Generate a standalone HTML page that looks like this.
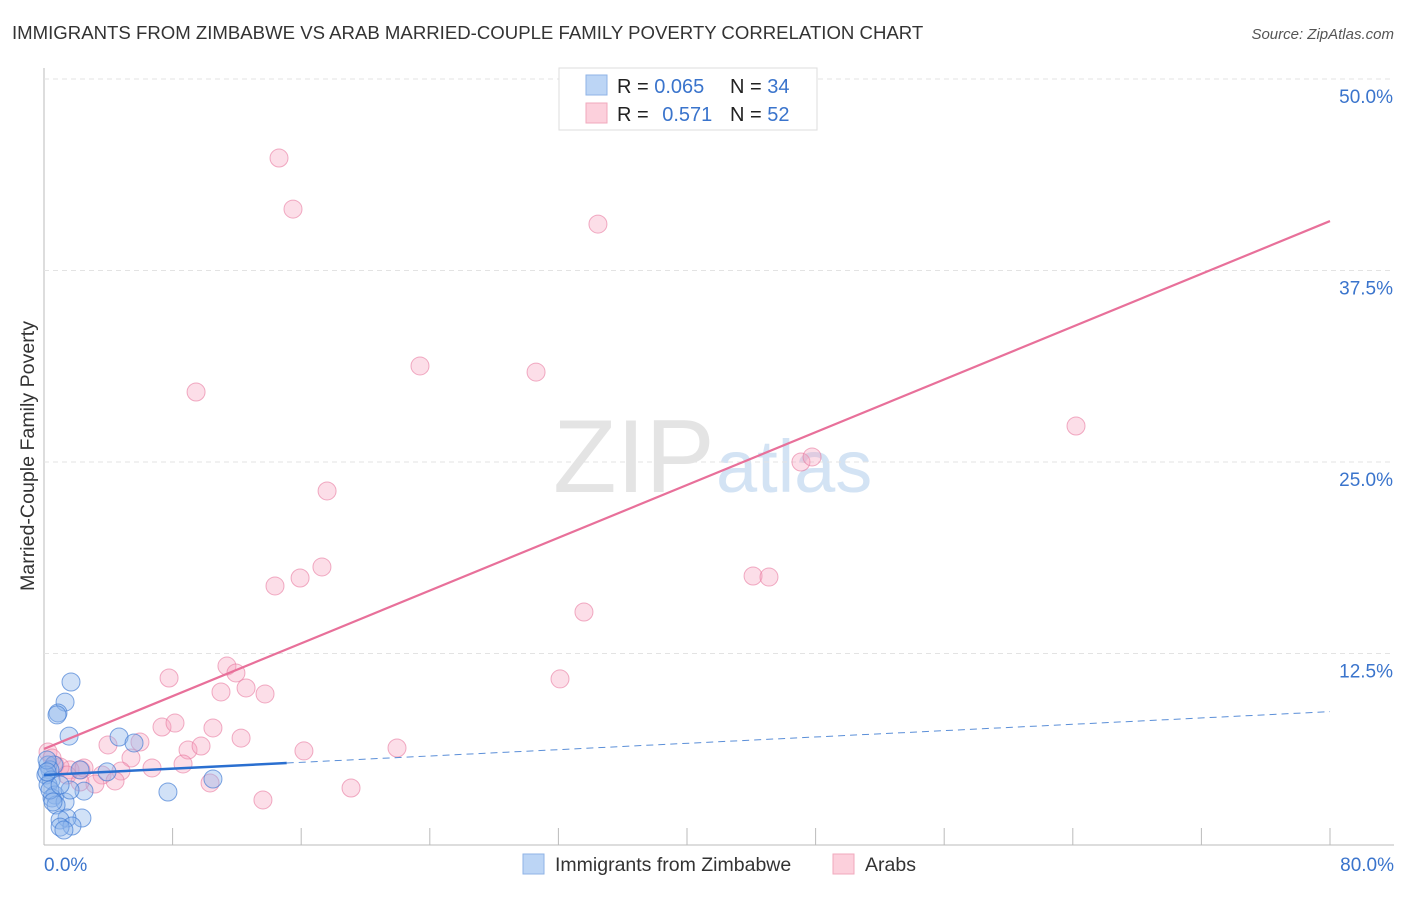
<!DOCTYPE html>
<html><head><meta charset="utf-8"><style>
body{margin:0;background:#fff;font-family:"Liberation Sans",sans-serif;}
svg text{font-family:"Liberation Sans",sans-serif;}
</style></head><body>
<svg id="chart" width="1406" height="892" xmlns="http://www.w3.org/2000/svg">
<text x="12" y="39" font-size="18.6" fill="#333">IMMIGRANTS FROM ZIMBABWE VS ARAB MARRIED-COUPLE FAMILY POVERTY CORRELATION CHART</text>
<text x="1394" y="39" font-size="15" fill="#555" font-style="italic" text-anchor="end">Source: ZipAtlas.com</text>
<text x="34" y="456" font-size="19.6" fill="#333" text-anchor="middle" transform="rotate(-90 34 456)">Married-Couple Family Poverty</text>
<g>
<text x="553" y="492" font-size="104" fill="#e4e4e4" font-family="Liberation Serif,serif">ZIP</text>
<text x="716" y="492" font-size="74" fill="#d3e3f4">atlas</text>
</g>
<g id="grid"></g><g id="pts"></g><g id="lines"></g>
<g>
<rect x="559" y="68" width="258" height="62" fill="#fff" stroke="#ddd"/>
<rect x="586" y="75" width="21" height="20" fill="#bcd5f5" stroke="#8fb3e6"/>
<rect x="586" y="103" width="21" height="20" fill="#fcd0dc" stroke="#f0a9bd"/>
<text x="617" y="93" font-size="20" fill="#222">R = <tspan fill="#3a74cc">0.065</tspan></text>
<text x="730" y="93" font-size="20" fill="#222">N = <tspan fill="#3a74cc">34</tspan></text>
<text x="617" y="121" font-size="20" fill="#222">R = <tspan fill="#3a74cc" dx="8">0.571</tspan></text>
<text x="730" y="121" font-size="20" fill="#222">N = <tspan fill="#3a74cc">52</tspan></text>
</g>
<g>
<rect x="523" y="854" width="21" height="20" fill="#bcd5f5" stroke="#8fb3e6"/>
<text x="555" y="871" font-size="19.5" fill="#333">Immigrants from Zimbabwe</text>
<rect x="833" y="854" width="21" height="20" fill="#fcd0dc" stroke="#f0a9bd"/>
<text x="865" y="871" font-size="19.5" fill="#333">Arabs</text>
</g>
</svg>
<script>
const xTicks=[0,10,20,30,40,50,60,70,80];
const yTicks=[12.5,25,37.5,50];
const blueX=[1.68,1.31,0.87,0.81,1.56,4.67,5.6,0.25,0.62,0.37,0.12,0.44,0.25,2.24,0.68,0.5,1.31,0.75,2.36,1.43,1.0,1.74,1.0,1.24,7.71,10.51,2.49,0.19,0.37,0.56,1.62,0.19,1.0,3.92];
const blueY=[10.64,9.33,8.62,8.49,7.11,7.05,6.66,5.22,5.22,4.9,4.57,4.24,3.92,4.9,3.26,3.07,2.81,2.61,1.76,1.76,1.63,1.24,1.17,0.98,3.46,4.31,3.52,5.55,3.59,2.81,3.59,4.77,3.92,4.77];
const pinkX=[14.62,15.49,34.46,9.46,23.39,30.61,17.61,64.2,47.09,47.78,17.29,15.93,14.37,44.11,45.1,33.59,7.78,11.38,11.94,11.01,12.57,13.75,32.1,7.34,8.15,10.51,12.26,8.96,9.77,16.17,21.96,8.65,5.97,3.98,5.41,6.72,4.79,3.61,4.42,3.17,2.3,1.62,0.25,0.68,1.0,1.43,2.24,10.33,13.62,19.1,2.49,0.5];
const pinkY=[44.84,41.51,40.53,29.57,31.27,30.87,23.11,27.35,25.0,25.33,18.15,17.43,16.91,17.56,17.49,15.21,10.9,11.68,11.23,9.99,10.25,9.86,10.84,7.7,7.96,7.64,6.98,6.2,6.46,6.14,6.33,5.29,6.72,6.53,5.68,5.03,4.83,4.57,4.18,3.98,4.9,4.9,6.07,5.22,5.09,4.57,4.11,4.05,2.94,3.72,5.03,5.68];
const blueTrend=[4.57,0.0517,15.1];
const pinkTrend=[6.27,0.4307];
const X=v=>44+v*16.075, Y=v=>845-v*15.32;
const NS='http://www.w3.org/2000/svg';
function mk(tag,attrs,parent){const e=document.createElementNS(NS,tag);for(const k in attrs)e.setAttribute(k,attrs[k]);document.getElementById(parent).appendChild(e);return e;}
let e;
e=mk('line',{x1:44,y1:68,x2:44,y2:845,stroke:'#bbb'},'grid');


e=mk('line',{x1:44,y1:845,x2:1394,y2:845,stroke:'#bbb'},'grid');


yTicks.forEach(t=>{
 e=mk('line',{x1:44,y1:Y(t),x2:1394,y2:Y(t),stroke:'#e3e3e3','stroke-dasharray':'5,4'},'grid');
 
 
 e=mk('text',{x:1393,y:Y(t)+24,'font-size':19,fill:'#3a74cc','text-anchor':'end'},'grid');e.textContent=t.toFixed(1)+'%';
 
 
});
for(let i=1;i<=10;i++){const v=i*8;
 e=mk('line',{x1:X(v),y1:828,x2:X(v),y2:845,stroke:'#bbb'},'grid');
 
 
}
[[0,'0.0%','start',44],[80,'80.0%','end',1394]].forEach(a=>{
 e=mk('text',{x:a[3],y:871,'font-size':19,fill:'#3a74cc','text-anchor':a[2]},'grid');e.textContent=a[1];
 
 
});
pinkX.forEach((x,i)=>{
 e=mk('circle',{cx:X(x),cy:Y(pinkY[i]),r:9,fill:'rgba(246,160,188,0.35)',stroke:'rgba(232,120,158,0.6)','stroke-width':1},'pts');
 
 
});
blueX.forEach((x,i)=>{
 e=mk('circle',{cx:X(x),cy:Y(blueY[i]),r:9,fill:'rgba(140,180,235,0.4)',stroke:'rgba(60,120,210,0.65)','stroke-width':1},'pts');
 
 
});
e=mk('line',{x1:X(0),y1:Y(pinkTrend[0]),x2:X(80),y2:Y(pinkTrend[0]+pinkTrend[1]*80),stroke:'#e8709a','stroke-width':2.2},'lines');


e=mk('line',{x1:X(0),y1:Y(blueTrend[0]),x2:X(blueTrend[2]),y2:Y(blueTrend[0]+blueTrend[1]*blueTrend[2]),stroke:'#2a6fd0','stroke-width':2.5},'lines');


e=mk('line',{x1:X(blueTrend[2]),y1:Y(blueTrend[0]+blueTrend[1]*blueTrend[2]),x2:X(80),y2:Y(blueTrend[0]+blueTrend[1]*80),stroke:'#5b8fd8','stroke-width':1,'stroke-dasharray':'7,5'},'lines');


</script>
</body></html>
